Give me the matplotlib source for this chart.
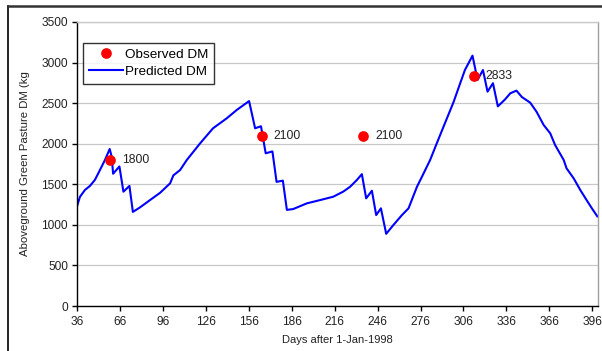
import numpy as np
import matplotlib as mpl
mpl.use("Agg")
import matplotlib.pyplot as plt
from matplotlib.lines import Line2D

plt.rcParams['font.family'] = ['Liberation Sans', 'DejaVu Sans']

# predicted aboveground green pasture DM (kg) by day after 1-Jan-1998
pred_day = [36, 38, 41.5, 45, 48.5, 52, 55.5, 58.8, 60.2, 61.2, 65.6, 68.4, 72.6,
            75, 80, 87, 94, 101, 103.3, 108, 112.7, 122, 131, 140.6, 147.6, 156.2,
            160.4, 164.5, 167.8, 172.5, 175.4, 179.8, 182.6, 187, 196.5, 205.9,
            215, 222, 226.8, 231.5, 235, 238, 242, 245, 248.3, 252, 257, 263,
            267.6, 273.5, 277, 282.7, 287, 293, 299, 303.7, 307, 312.3, 315.8,
            319.6, 322.8, 326.6, 330, 335, 338.7, 343, 346.8, 352.6, 357, 362,
            366.6, 370, 376, 378, 383, 387.6, 392, 395.7, 399.5]
pred_dm = [1230, 1345, 1430, 1480, 1555, 1676, 1800, 1935, 1840, 1630, 1720, 1409,
           1480, 1160, 1216, 1306, 1395, 1512, 1610, 1676, 1800, 2005, 2190, 2313,
           2416, 2525, 2190, 2215, 1882, 1905, 1530, 1545, 1185, 1195, 1265, 1306,
           1347, 1410, 1470, 1553, 1625, 1327, 1421, 1121, 1204, 890, 998, 1121,
           1204, 1470, 1594, 1800, 1990, 2251, 2510, 2745, 2908, 3085, 2785, 2908,
           2641, 2745, 2460, 2545, 2621, 2654, 2575, 2506, 2395, 2231, 2128, 1984,
           1800, 1697, 1573, 1430, 1306, 1204, 1105]

# observed DM samples
obs_day = [59, 165, 236, 313]
obs_dm = [1800, 2100, 2100, 2833]

x_ticks = np.arange(36, 397, 30)
y_ticks = np.arange(0, 3501, 500)

fig = plt.figure(figsize=(6.02, 3.51), dpi=100)
ax = fig.add_axes([0.128, 0.128, 0.8654, 0.8095])

ax.grid(axis='y', color='#c8c8c8', linewidth=0.9)
ax.set_axisbelow(True)

p1, = ax.plot(pred_day, pred_dm, color='#0000ff', linewidth=1.5, zorder=2)
p0, = ax.plot(obs_day, obs_dm, 'o', color='#ff0000', markersize=7.7,
              markeredgewidth=0, zorder=3)

for d, v in zip(obs_day, obs_dm):
    ax.annotate(str(v), (d, v), xytext=(8.6, 0), textcoords='offset points',
                va='center', ha='left', fontsize=8.8, color='#222222')

ax.set_xlim(36, 400)
ax.set_ylim(0, 3500)
ax.set_xticks(x_ticks)
ax.set_yticks(y_ticks)
ax.tick_params(direction='out', length=3.5, width=1, labelsize=8.6,
               colors='black', labelcolor='#222222')
ax.tick_params(axis='x', pad=4)
ax.tick_params(axis='y', pad=3)

ax.spines['left'].set_color('black')
ax.spines['bottom'].set_color('black')
ax.spines['top'].set_color('#c8c8c8')
ax.spines['right'].set_color('#a0a0a0')
for s in ax.spines.values():
    s.set_linewidth(1)

ax.set_xlabel('Days after 1-Jan-1998', fontsize=8, labelpad=5, color='#222222')
ax.set_ylabel('Aboveground Green Pasture DM (kg', fontsize=8.2, labelpad=8,
              color='#222222')

leg = ax.legend((p0, p1), ('Observed DM', 'Predicted DM'), loc='upper left',
                bbox_to_anchor=(0.011, 0.927), fontsize=9.7, frameon=True,
                fancybox=False, edgecolor='black', handlelength=2.5,
                borderpad=0.45, labelspacing=0.3, handletextpad=0.15,
                borderaxespad=0)
leg.get_frame().set_linewidth(1)

# outer frame lines along the top and left of the figure
fig.add_artist(Line2D([8 / 602, 8 / 602], [0, 1 - 6 / 351], color='black',
                      linewidth=1.2))
fig.add_artist(Line2D([8 / 602, 1], [1 - 6 / 351, 1 - 6 / 351], color='#333333',
                      linewidth=1.8))

fig.savefig('out.png', dpi=100)
